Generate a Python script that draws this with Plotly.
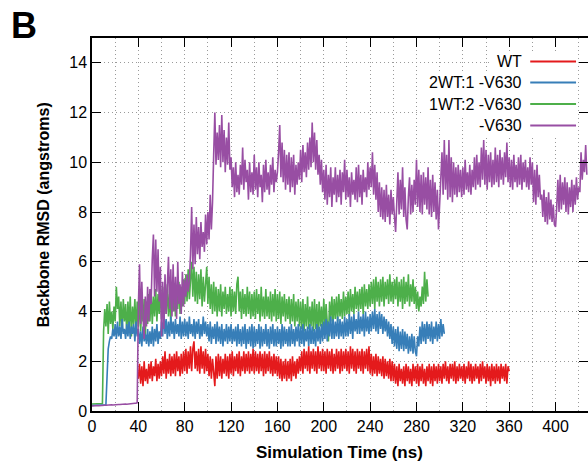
import numpy as np
import plotly.graph_objects as go

# ---------------- data: backbone RMSD (angstroms), one value per ns ----------------
STEP = 1.0

wt_start = 40.0
wt_rmsd = [
    1.3,1.9,1.1,1.8,1.0,2.0,1.2,1.7,1.1,1.9,
    1.3,2.0,1.2,1.8,1.4,2.1,1.2,1.9,1.3,2.0,
    1.4,2.2,1.5,2.4,1.3,2.1,1.5,2.3,1.4,2.2,
    1.5,2.3,1.4,2.4,1.6,2.2,1.4,2.3,1.5,2.4,
    1.6,2.5,1.5,2.4,1.7,2.6,1.6,2.5,2.8,1.7,
    2.4,1.6,2.5,1.5,2.6,1.7,2.4,1.5,2.5,1.6,
    2.3,1.4,2.2,1.3,2.1,1.4,1.0,2.2,1.3,2.3,
    1.4,2.2,1.3,2.1,1.5,2.3,1.4,2.2,1.3,2.3,
    1.5,2.4,1.4,2.2,1.6,2.3,1.5,2.4,1.4,2.2,
    1.6,2.4,1.5,2.3,1.6,2.4,1.5,2.3,1.6,2.5,
    1.5,2.4,1.6,2.3,1.5,2.4,1.6,2.3,1.4,2.4,
    1.5,2.3,1.6,2.4,1.5,2.2,1.4,2.3,1.5,2.2,
    1.4,2.2,1.3,2.1,1.2,2.0,1.3,2.1,1.2,2.0,
    1.3,2.1,1.2,2.2,1.4,2.0,1.3,2.1,1.5,2.2,
    1.6,2.4,1.5,2.5,1.7,2.4,1.6,2.6,1.5,2.4,
    1.7,2.5,1.6,2.4,1.5,2.6,1.7,2.4,1.6,2.5,
    1.6,2.4,1.5,2.5,1.7,2.4,1.6,2.5,1.5,2.3,
    1.6,2.5,1.7,2.4,1.5,2.5,1.6,2.4,1.7,2.5,
    1.6,2.4,1.5,2.6,1.7,2.5,1.6,2.4,1.5,2.5,
    1.7,2.4,1.6,2.5,1.5,2.4,1.7,2.5,1.6,2.6,
    1.5,2.3,1.4,2.2,1.5,2.3,1.4,2.2,1.5,2.1,
    1.4,2.2,1.3,2.1,1.4,2.0,1.3,2.1,1.2,2.0,
    1.2,1.9,1.1,1.8,1.0,1.9,1.2,1.7,1.1,1.8,
    1.0,1.9,1.2,1.8,1.1,1.7,1.0,1.9,1.2,1.8,
    1.1,1.9,1.0,1.8,1.2,1.9,1.1,1.7,1.0,1.8,
    1.2,1.9,1.1,1.8,1.0,1.9,1.2,1.8,1.1,1.9,
    1.2,1.8,1.1,1.9,1.3,2.0,1.2,1.8,1.1,1.9,
    1.3,1.9,1.2,2.0,1.1,1.8,1.2,1.9,1.3,1.8,
    1.2,1.9,1.1,1.8,1.3,2.0,1.2,1.9,1.1,1.8,
    1.2,1.9,1.3,1.8,1.1,1.9,1.2,2.0,1.3,1.8,
    1.1,1.9,1.2,1.8,1.0,1.9,1.2,1.8,1.1,1.9,
    1.2,1.8,1.1,1.9,1.3,1.8,1.2,1.9,1.1,1.8,
    1.6,
]

mix21_start = 0.0
mix21_rmsd = [
    0.22,0.22,0.22,0.23,0.23,0.23,0.23,0.24,0.24,0.24,
    0.24,0.25,0.25,1.4,2.5,2.8,3.0,2.9,3.3,3.0,
    3.5,2.9,3.6,3.0,3.4,2.9,3.7,3.1,3.3,2.9,
    3.5,3.0,3.6,2.9,3.4,3.1,3.5,2.8,3.6,3.0,
    3.3,2.7,3.2,2.6,3.4,2.8,3.1,2.7,3.3,2.6,
    3.2,2.7,3.4,2.6,3.3,2.8,3.5,2.7,3.2,2.9,
    3.6,3.0,4.0,3.1,3.7,2.9,3.6,3.0,3.8,3.1,
    3.6,2.9,3.7,3.1,3.5,3.0,3.8,2.9,3.6,3.0,
    3.7,3.0,3.6,2.9,3.8,3.1,3.5,3.0,3.7,2.9,
    3.6,3.1,3.7,2.9,3.5,3.0,3.8,3.1,3.6,3.0,
    3.5,2.8,3.6,2.7,3.4,2.9,3.5,2.7,3.6,2.8,
    3.4,2.7,3.5,2.6,3.3,2.8,3.5,2.7,3.4,2.8,
    3.5,2.7,3.3,2.8,3.4,2.6,3.5,2.7,3.3,2.6,
    3.4,2.7,3.5,2.5,3.3,2.7,3.4,2.6,3.5,2.5,
    3.4,2.6,3.3,2.7,3.5,2.5,3.4,2.6,3.3,2.7,
    3.5,2.6,3.3,2.5,3.4,2.7,3.5,2.6,3.3,2.6,
    3.4,2.7,3.3,2.5,3.5,2.6,3.4,2.7,3.3,2.6,
    3.4,2.6,3.5,2.7,3.3,2.6,3.4,2.8,3.5,2.6,
    3.4,2.7,3.5,2.6,3.3,2.8,3.4,2.6,3.5,2.7,
    3.4,2.7,3.3,2.6,3.5,2.8,3.4,2.7,3.5,2.8,
    3.6,2.9,3.7,2.8,3.6,3.0,3.8,2.9,3.7,2.9,
    3.6,3.0,3.8,2.9,3.7,3.0,3.6,2.9,3.8,3.0,
    3.7,3.0,3.9,3.1,3.8,2.9,3.9,3.2,3.7,3.1,
    4.0,3.1,3.8,3.2,3.9,3.0,4.0,3.2,3.8,3.1,
    3.9,3.2,4.0,3.3,4.1,3.2,3.9,3.1,4.0,3.3,
    3.9,3.1,3.8,3.2,3.7,3.0,3.6,2.9,3.5,2.7,
    3.4,2.6,3.3,2.5,3.4,2.4,3.2,2.5,3.3,2.4,
    3.2,2.5,3.1,2.3,3.0,2.4,3.1,2.3,3.0,2.4,
    2.2,3.0,2.6,3.4,2.7,3.6,2.8,3.5,2.7,3.6,
    2.9,3.5,2.8,3.6,2.7,3.4,2.9,3.6,2.8,3.5,
    2.9,3.7,3.0,3.5,3.1,
]

mix12_start = 0.0
mix12_rmsd = [
    0.28,0.28,0.29,0.28,0.29,0.29,0.30,0.29,0.30,0.30,
    3.2,4.1,3.4,4.3,3.1,4.4,3.5,4.0,3.3,4.2,
    3.6,5.0,4.1,4.6,3.4,4.4,3.2,4.5,3.6,4.3,
    3.1,4.4,3.4,4.6,3.0,4.2,3.5,4.5,3.2,4.4,
    3.4,4.6,3.2,4.3,3.6,4.5,3.1,4.4,3.5,4.7,
    3.6,4.8,3.5,4.6,3.8,4.9,3.6,4.7,3.9,5.0,
    3.7,5.0,3.6,4.8,3.9,5.1,3.8,4.7,3.6,4.9,
    4.0,5.1,3.8,4.9,4.1,5.2,3.9,5.0,4.2,5.3,
    4.3,5.5,4.4,5.7,4.5,5.4,6.0,4.6,5.8,4.4,
    5.6,4.3,5.5,4.5,5.7,4.2,5.4,4.4,5.3,5.8,
    4.3,5.4,4.1,5.1,3.9,5.2,4.0,5.0,3.8,4.9,
    4.0,5.1,3.8,4.8,4.1,5.0,3.9,4.7,4.0,5.0,
    3.8,4.9,4.0,4.8,3.9,5.1,5.4,4.0,4.8,3.7,
    4.9,3.9,4.7,3.8,5.0,3.9,4.8,3.7,4.7,3.8,
    4.8,3.7,4.9,3.9,4.7,3.6,5.0,3.8,4.6,3.7,
    4.9,3.8,4.6,3.7,4.8,3.6,4.7,3.8,4.9,3.6,
    4.7,3.7,4.8,3.5,4.6,3.8,4.7,3.6,4.5,3.7,
    4.6,3.5,4.5,3.6,4.7,3.4,4.4,3.6,4.5,3.4,
    4.4,3.3,4.5,3.2,4.3,3.4,4.6,3.3,4.2,3.4,
    4.4,3.2,4.5,3.3,4.3,3.1,4.4,3.4,4.2,3.3,
    4.5,3.4,4.3,3.5,2.8,4.4,3.6,4.6,3.5,4.5,
    3.7,4.6,3.6,4.7,3.8,4.5,3.7,4.8,3.8,4.6,
    3.9,4.8,3.8,4.9,4.0,4.7,3.9,5.0,4.1,4.8,
    4.0,4.9,4.1,5.0,3.9,5.1,4.2,4.9,4.1,5.1,
    4.2,5.2,4.3,5.3,4.1,5.4,4.4,5.2,4.2,5.3,
    4.4,5.4,4.2,5.2,4.5,5.3,4.3,5.5,4.4,5.2,
    4.3,5.3,4.5,5.4,4.2,5.2,4.4,5.3,4.1,5.4,
    4.3,5.2,4.4,5.5,4.2,5.1,4.4,5.3,4.3,5.0,
    4.1,4.8,4.0,4.6,4.2,5.0,4.3,5.6,4.4,5.3,
    4.6,
]

v630_start = 0.0
v630_rmsd = [
    0.20,0.21,0.20,0.21,0.21,0.22,0.21,0.22,0.22,0.23,
    0.22,0.23,0.23,0.24,0.23,0.24,0.24,0.25,0.24,0.25,
    0.25,0.26,0.25,0.26,0.26,0.27,0.26,0.27,0.27,0.28,
    0.27,0.28,0.28,0.29,0.28,0.29,0.30,0.31,0.31,0.33,
    4.2,5.9,3.5,5.2,3.8,2.9,4.6,3.4,5.0,3.6,
    4.9,4.3,6.1,7.1,4.6,6.9,4.8,6.5,4.4,5.8,
    3.0,5.2,3.3,5.5,3.9,4.8,6.2,4.1,5.7,3.8,
    5.9,4.0,5.4,3.7,6.0,4.3,5.1,3.9,5.6,4.2,
    5.3,4.6,5.5,4.8,5.2,6.3,8.2,5.7,7.5,5.9,
    7.8,6.3,7.4,6.1,7.6,6.6,7.2,6.4,7.9,6.7,
    8.0,6.9,8.7,7.3,8.4,10.3,12.0,9.9,11.2,10.1,
    11.5,9.8,11.9,10.0,11.3,9.6,11.0,9.9,11.6,9.7,
    10.2,9.0,9.8,8.6,10.0,8.8,9.5,8.7,9.9,9.1,
    10.6,8.9,10.1,9.2,9.7,8.5,10.0,8.8,9.6,8.7,
    10.3,8.9,9.8,8.6,10.0,9.0,9.5,8.4,9.9,8.8,
    10.1,8.9,9.6,8.7,9.9,9.1,10.2,8.8,9.7,9.2,
    9.6,10.4,11.5,9.4,10.8,9.2,10.5,8.9,10.3,9.1,
    10.4,8.8,10.2,9.0,10.3,8.7,9.9,9.1,10.0,9.3,
    10.5,9.2,10.7,9.6,10.4,9.4,10.8,9.7,11.0,9.8,
    11.6,10.0,11.2,9.7,10.9,9.5,10.3,9.1,10.1,8.8,
    9.7,8.5,9.9,8.3,9.5,8.6,9.8,8.2,9.4,8.7,
    9.8,8.4,9.5,8.6,9.7,8.3,9.6,8.8,10.1,8.5,
    9.7,8.6,9.4,8.2,9.6,8.7,9.3,8.5,9.8,8.4,
    9.9,8.6,9.5,8.3,9.7,8.8,9.4,8.6,10.0,8.9,
    9.8,9.0,10.4,8.7,9.9,8.5,9.6,8.0,9.2,7.8,
    9.0,7.7,8.9,7.6,9.1,7.8,8.7,7.5,8.9,7.9,
    8.6,7.8,7.2,8.4,9.6,7.9,9.3,8.1,9.8,7.8,
    9.0,7.7,7.3,8.6,9.4,7.9,9.1,8.0,9.3,8.3,
    10.1,8.2,9.7,8.0,9.5,7.9,9.6,8.3,9.4,8.1,
    9.8,7.9,9.3,7.8,9.5,8.0,9.2,7.7,8.9,7.3,
    8.6,9.8,10.4,8.7,10.9,8.9,10.3,8.5,10.9,8.6,
    10.2,8.4,10.0,8.7,9.8,8.6,9.9,8.8,9.7,8.6,
    9.8,8.7,10.1,8.9,9.6,8.8,9.9,8.7,9.7,9.0,
    10.2,8.9,10.3,9.1,10.0,9.0,10.6,9.3,10.9,9.1,
    10.5,8.9,10.3,9.2,10.4,9.0,10.1,9.1,10.6,9.2,
    10.3,9.0,10.5,9.3,10.2,9.1,10.4,9.4,10.8,9.2,
    10.2,9.0,10.1,8.9,10.3,9.2,9.9,9.0,10.2,9.1,
    10.3,8.9,10.0,9.2,10.1,9.0,9.8,8.9,10.2,9.1,
    10.0,8.4,9.7,8.3,9.9,8.6,9.5,8.5,8.7,7.8,
    8.9,7.6,8.6,7.5,8.8,7.7,8.5,7.6,8.3,7.5,
    7.4,8.2,9.3,8.0,9.5,8.1,9.2,8.3,9.4,8.0,
    9.2,7.9,9.0,8.2,9.3,8.0,9.1,8.3,9.4,8.5,
    9.0,8.8,10.4,9.3,10.1,9.6,10.7,9.5,
]

labels = ["WT", "2WT:1 -V630", "1WT:2 -V630", "-V630"]
colors = ["#e41a1c", "#377eb8", "#4daf4a", "#984ea3"]
series = [(wt_start, wt_rmsd), (mix21_start, mix21_rmsd),
          (mix12_start, mix12_rmsd), (v630_start, v630_rmsd)]

x_ticks = list(range(0, 401, 40))
y_ticks = list(range(0, 15, 2))

FONT = "Liberation Sans, Arial, Helvetica, sans-serif"

# ---------------- figure ----------------
fig = go.Figure()
draw_order = [2, 1, 0, 3]
for i in draw_order:
    start, vals = series[i]
    t = start + STEP * np.arange(len(vals))
    fig.add_trace(go.Scatter(x=t, y=vals, mode="lines", name=labels[i],
                             line=dict(color=colors[i], width=1.6),
                             showlegend=False, hoverinfo="skip"))

# figure is 2 px wider than the window so the right frame line falls just outside
W, H = 590, 464
L, R, T, B = 92, 0, 38, 53
PW, PH = W - L - R, H - T - B


def px(x):
    return (x - L) / PW


def py(y):
    return (H - B - y) / PH


GRID_COLOR = "#9a9a9a"
GRID_DASH = "1px,3px"
grid = dict(showgrid=True, gridcolor=GRID_COLOR, griddash=GRID_DASH, gridwidth=1)
axis_common = dict(ticks="inside", ticklen=9, tickwidth=1.2, tickcolor="black",
                   showline=True, linecolor="black", linewidth=1.5,
                   zeroline=False, tickfont=dict(family=FONT, size=16, color="black"))

fig.update_layout(
    width=W, height=H,
    margin=dict(l=L, r=R, t=T, b=B, pad=0),
    paper_bgcolor="white", plot_bgcolor="white",
    showlegend=False,
    xaxis=dict(range=[0, 428], tickvals=x_ticks, mirror="ticks",
               minor=dict(dtick=20, tick0=0, showgrid=True, gridcolor=GRID_COLOR,
                          griddash=GRID_DASH, gridwidth=1, ticks=""),
               **grid, **axis_common),
    yaxis=dict(range=[0, 15], tickvals=y_ticks, mirror="ticks",
               **grid, **axis_common),
)

annotations = [
    dict(text="<b>B</b>", x=px(24), y=py(26), xref="paper", yref="paper",
         showarrow=False, font=dict(family=FONT, size=36, color="black"),
         xanchor="center", yanchor="middle"),
    dict(text="<b>Backbone RMSD (angstroms)</b>", x=px(43), y=py(215),
         xref="paper", yref="paper", showarrow=False, textangle=-90,
         font=dict(family=FONT, size=16, color="black"),
         xanchor="center", yanchor="middle"),
    dict(text="<b>Simulation Time (ns)</b>", x=px(340), y=py(452),
         xref="paper", yref="paper", showarrow=False,
         font=dict(family=FONT, size=17, color="black"),
         xanchor="center", yanchor="middle"),
]

# custom key (text on the left, line sample on the right, like the original)
row_y = [61.5, 82.5, 104, 125.5]
row_top = [51, 72, 93, 115]
row_bot = [72, 93, 115, 136]
row_left = [493, 424, 424, 475]
shapes = []
for k in range(4):
    shapes.append(dict(type="rect", xref="paper", yref="paper",
                       x0=px(row_left[k]), x1=px(580), y0=py(row_bot[k]), y1=py(row_top[k]),
                       fillcolor="white", line=dict(width=0), layer="above"))
for k in range(4):
    shapes.append(dict(type="line", xref="paper", yref="paper",
                       x0=px(532), x1=px(578), y0=py(row_y[k]), y1=py(row_y[k]),
                       line=dict(color=colors[k], width=2), layer="above"))
    annotations.append(dict(text=labels[k], x=px(526), y=py(row_y[k]),
                            xref="paper", yref="paper", showarrow=False,
                            xanchor="right", yanchor="middle",
                            font=dict(family=FONT, size=16, color="black")))

fig.update_layout(annotations=annotations, shapes=shapes)
fig.write_html("out.html", config={"displayModeBar": False},
               post_script="document.body.style.margin='0';document.body.style.overflow='hidden';")
